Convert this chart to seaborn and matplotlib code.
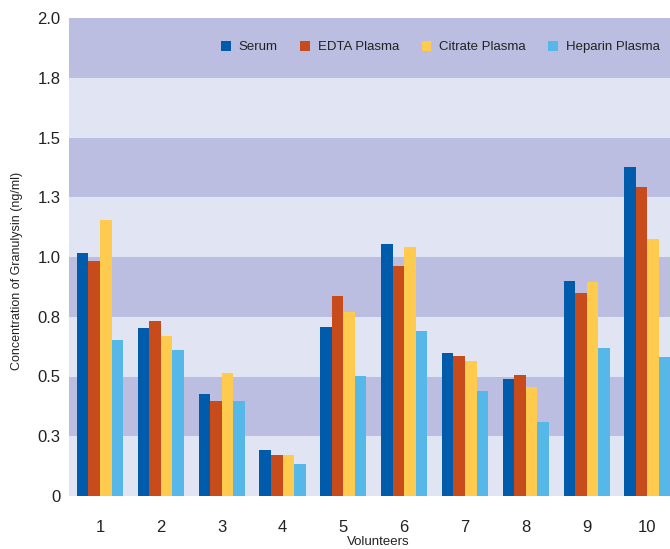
import matplotlib
matplotlib.use("Agg")
import matplotlib.pyplot as plt
import seaborn as sns
import pandas as pd

volunteers = ["1", "2", "3", "4", "5", "6", "7", "8", "9", "10"]
serum = [1.017, 0.703, 0.428, 0.193, 0.708, 1.055, 0.599, 0.491, 0.900, 1.377]
edta = [0.985, 0.733, 0.399, 0.171, 0.838, 0.963, 0.586, 0.507, 0.850, 1.294]
citrate = [1.156, 0.670, 0.516, 0.171, 0.771, 1.043, 0.566, 0.454, 0.894, 1.075]
heparin = [0.653, 0.611, 0.399, 0.135, 0.503, 0.692, 0.440, 0.311, 0.620, 0.582]
series_names = ["Serum", "EDTA Plasma", "Citrate Plasma", "Heparin Plasma"]
colors = ["#005BAA", "#C84B1C", "#FFCB4F", "#55B8E8"]
ytick_vals = [0, 0.25, 0.5, 0.75, 1.0, 1.25, 1.5, 1.75, 2.0]
ytick_labels = ["0", "0.3", "0.5", "0.8", "1.0", "1.3", "1.5", "1.8", "2.0"]

rows = []
for name, vals in zip(series_names, [serum, edta, citrate, heparin]):
    for v, val in zip(volunteers, vals):
        rows.append({"Volunteer": v, "Sample": name, "Value": val})
df = pd.DataFrame(rows)

sns.set_theme(style="white")
plt.rcParams["font.family"] = ["Liberation Sans", "DejaVu Sans"]

fig = plt.figure(figsize=(6.7, 5.49), dpi=100)
ax = fig.add_axes([69 / 670, 53 / 549, (687 - 69) / 670, 478 / 549])

dark = "#BBBEE0"
light = "#E1E4F3"
for i in range(8):
    ax.axhspan(ytick_vals[i], ytick_vals[i + 1], color=(light if i % 2 == 0 else dark), zorder=0, lw=0)

sns.barplot(data=df, x="Volunteer", y="Value", hue="Sample", order=volunteers,
            hue_order=series_names, palette=colors, width=0.76, gap=0,
            saturation=1, ax=ax, zorder=2, linewidth=0, errorbar=None)

ax.set_xlim(-0.51, 9.65)
ax.set_ylim(0, 2.0)
ax.set_yticks(ytick_vals)
ax.set_yticklabels(ytick_labels)
for s in ax.spines.values():
    s.set_visible(False)
ax.tick_params(axis="both", length=0, labelsize=12, colors="#222222")
ax.tick_params(axis="x", pad=17)
ax.tick_params(axis="y", pad=6)
ax.set_xlabel("Volunteers", fontsize=9.5, color="#222222", labelpad=1)
ax.set_ylabel("Concentration of Granulysin (ng/ml)", fontsize=9, color="#222222")
ax.yaxis.set_label_coords(-0.074, 0.47)
ax.grid(False)

leg = ax.legend(loc="center", bbox_to_anchor=(0.601, 0.939), ncol=4, frameon=False,
                fontsize=9.5, handlelength=0.75, handleheight=0.75, handletextpad=0.6,
                columnspacing=1.7, labelcolor="#222222")

fig.savefig("out.png", dpi=100)
